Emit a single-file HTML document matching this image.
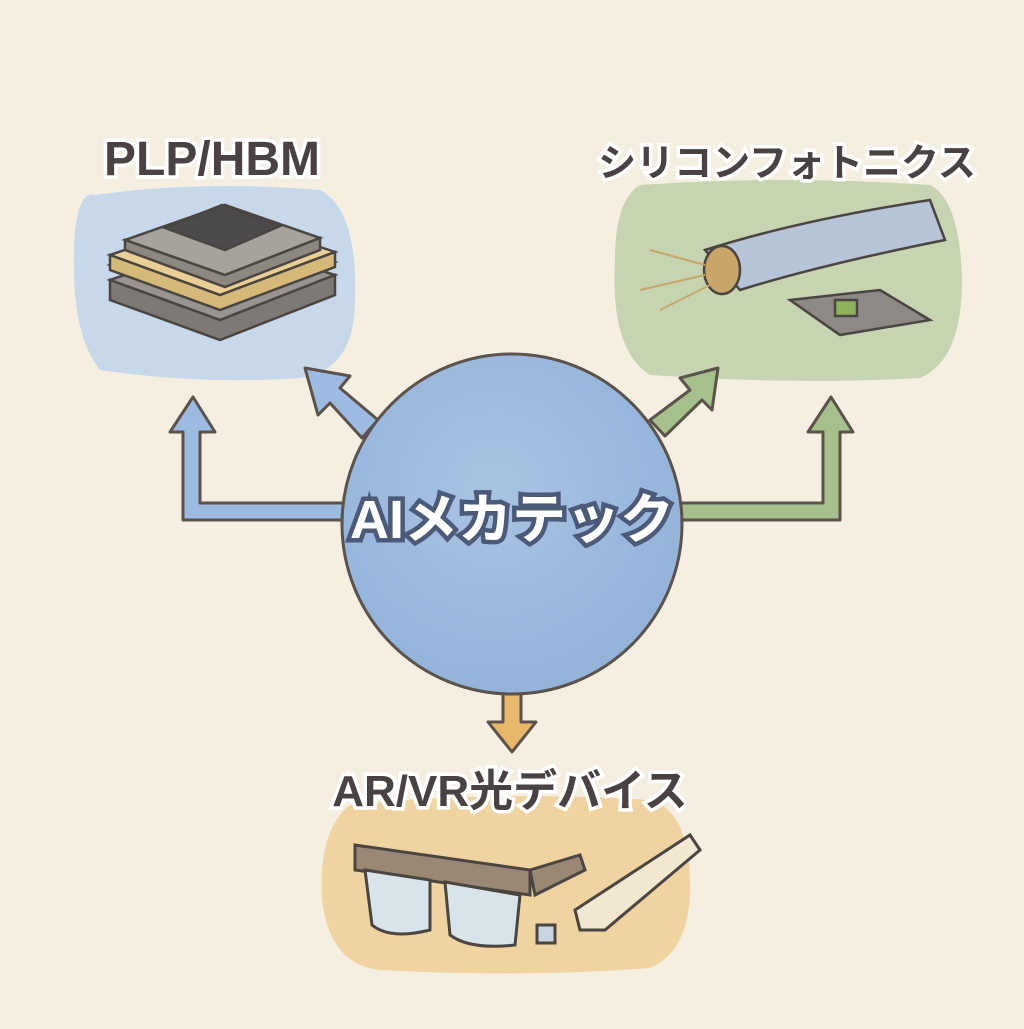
<!DOCTYPE html>
<html><head><meta charset="utf-8"><style>
body{margin:0;width:1024px;height:1024px;background:#f5efe2;overflow:hidden;font-family:"Liberation Sans","Noto Sans CJK JP",sans-serif}
</style></head><body>
<svg width="1024" height="1024" viewBox="0 0 1024 1024" xmlns="http://www.w3.org/2000/svg">
<defs>
<radialGradient id="cg" cx="0.45" cy="0.4" r="0.7"><stop offset="0" stop-color="#a9c3e3"/><stop offset="1" stop-color="#8fb0d8"/></radialGradient>
</defs>
<rect width="1024" height="1024" fill="#f5efe2"/>
<path d="M95 195 Q80 190 75 230 Q68 330 100 370 Q200 385 300 378 Q355 370 355 300 Q358 210 320 190 Q200 180 95 195Z" fill="#c7d8ea"/>
<path d="M640 185 Q615 200 615 260 Q610 350 650 375 Q800 385 920 378 Q962 360 962 280 Q960 200 930 185 Q780 175 640 185Z" fill="#c6d4b1"/>
<path d="M350 805 Q318 830 322 900 Q330 965 380 970 Q520 978 650 968 Q692 950 690 880 Q688 810 650 800 Q500 790 350 805Z" fill="#efd4a2"/>
<g stroke="#5b524c" stroke-width="3" stroke-linejoin="round">
<path d="M183 520 L183 432 L170 432 L193 397 L215 432 L200 432 L200 503 L360 503 L360 520 Z" fill="#9dbbe0"/>
<path d="M362 438 L330 403 L318 415 L305 368 L350 376 L340 388 L378 420 Z" fill="#9dbbe0"/>
<path d="M840 520 L840 432 L853 432 L831 397 L808 432 L823 432 L823 503 L670 503 L670 520 Z" fill="#a6c08c"/>
<path d="M650 420 L690 390 L680 378 L718 368 L712 410 L702 400 L665 436 Z" fill="#a6c08c"/>
<path d="M503 670 L503 722 L488 722 L512 752 L536 722 L521 722 L521 670 Z" fill="#e8b86a"/>
</g>
<circle cx="512" cy="524" r="170" fill="url(#cg)" stroke="#5b524c" stroke-width="3"/>
<text x="512" y="538" text-anchor="middle" font-size="54" font-weight="bold" fill="#ffffff" stroke="#4a5a78" stroke-width="9" paint-order="stroke" font-family="Liberation Sans,Noto Sans CJK JP,sans-serif">AIメカテック</text>
<g font-weight="bold" fill="#4a4242" stroke="#ffffff" stroke-width="7" paint-order="stroke" text-anchor="middle" font-family="Liberation Sans,Noto Sans CJK JP,sans-serif">
<text x="212" y="175" font-size="48">PLP/HBM</text>
<text x="787" y="176" font-size="38">シリコンフォトニクス</text>
<text x="510" y="806" font-size="44">AR/VR光デバイス</text>
</g>
<g stroke="#4b4541" stroke-width="2.5">
<path d="M110 280 L220 320 L335 275 L225 240 Z" fill="#9a9490"/>
<path d="M110 280 L110 300 L220 340 L335 295 L335 275 L220 320 Z" fill="#7f7975"/>
<path d="M110 265 L220 305 L335 262 L225 225 Z" fill="#9fc1d6"/>
<path d="M110 255 L220 295 L335 252 L225 215 Z" fill="#e7cf95"/>
<path d="M110 255 L110 270 L220 310 L335 267 L335 252 L220 295 Z" fill="#d4b978"/>
<path d="M125 240 L225 275 L320 238 L225 205 Z" fill="#a8a29d"/>
<path d="M125 240 L125 250 L225 287 L320 250 L320 238 L225 275 Z" fill="#8d8782"/>
<path d="M165 228 L225 250 L280 226 L222 205 Z" fill="#4c4a4a"/>
</g>
<g stroke="#4b4541" stroke-width="2.5">
<path d="M705 250 Q800 220 930 200 L945 240 Q820 265 740 290 Z" fill="#b7c3d6"/>
<ellipse cx="722" cy="270" rx="18" ry="24" fill="#c9a56a"/>
<path d="M790 300 L880 290 L930 320 L840 335 Z" fill="#8d8a86"/>
<rect x="835" y="300" width="22" height="16" fill="#8cb35a"/>
</g>
<g stroke="#c9a56a" stroke-width="2" fill="none"><path d="M705 265 L650 250"/><path d="M705 275 L640 290"/><path d="M710 285 L660 310"/></g>
<g stroke="#4b4541" stroke-width="3">
<path d="M355 845 L530 870 L530 895 L355 870 Z" fill="#9a8875"/>
<path d="M365 870 L430 880 L430 930 Q390 940 372 925 Z" fill="#d9e3ea"/>
<path d="M445 882 L520 895 L515 945 Q470 950 450 935 Z" fill="#d9e3ea"/>
<path d="M530 870 L580 855 L585 870 L535 895 Z" fill="#9a8875"/>
<path d="M575 910 L690 835 L700 850 L605 930 L580 930 Z" fill="#f2e7cf"/>
<rect x="537" y="925" width="18" height="18" fill="#c8d4e0"/>
</g>
</svg>
</body></html>
